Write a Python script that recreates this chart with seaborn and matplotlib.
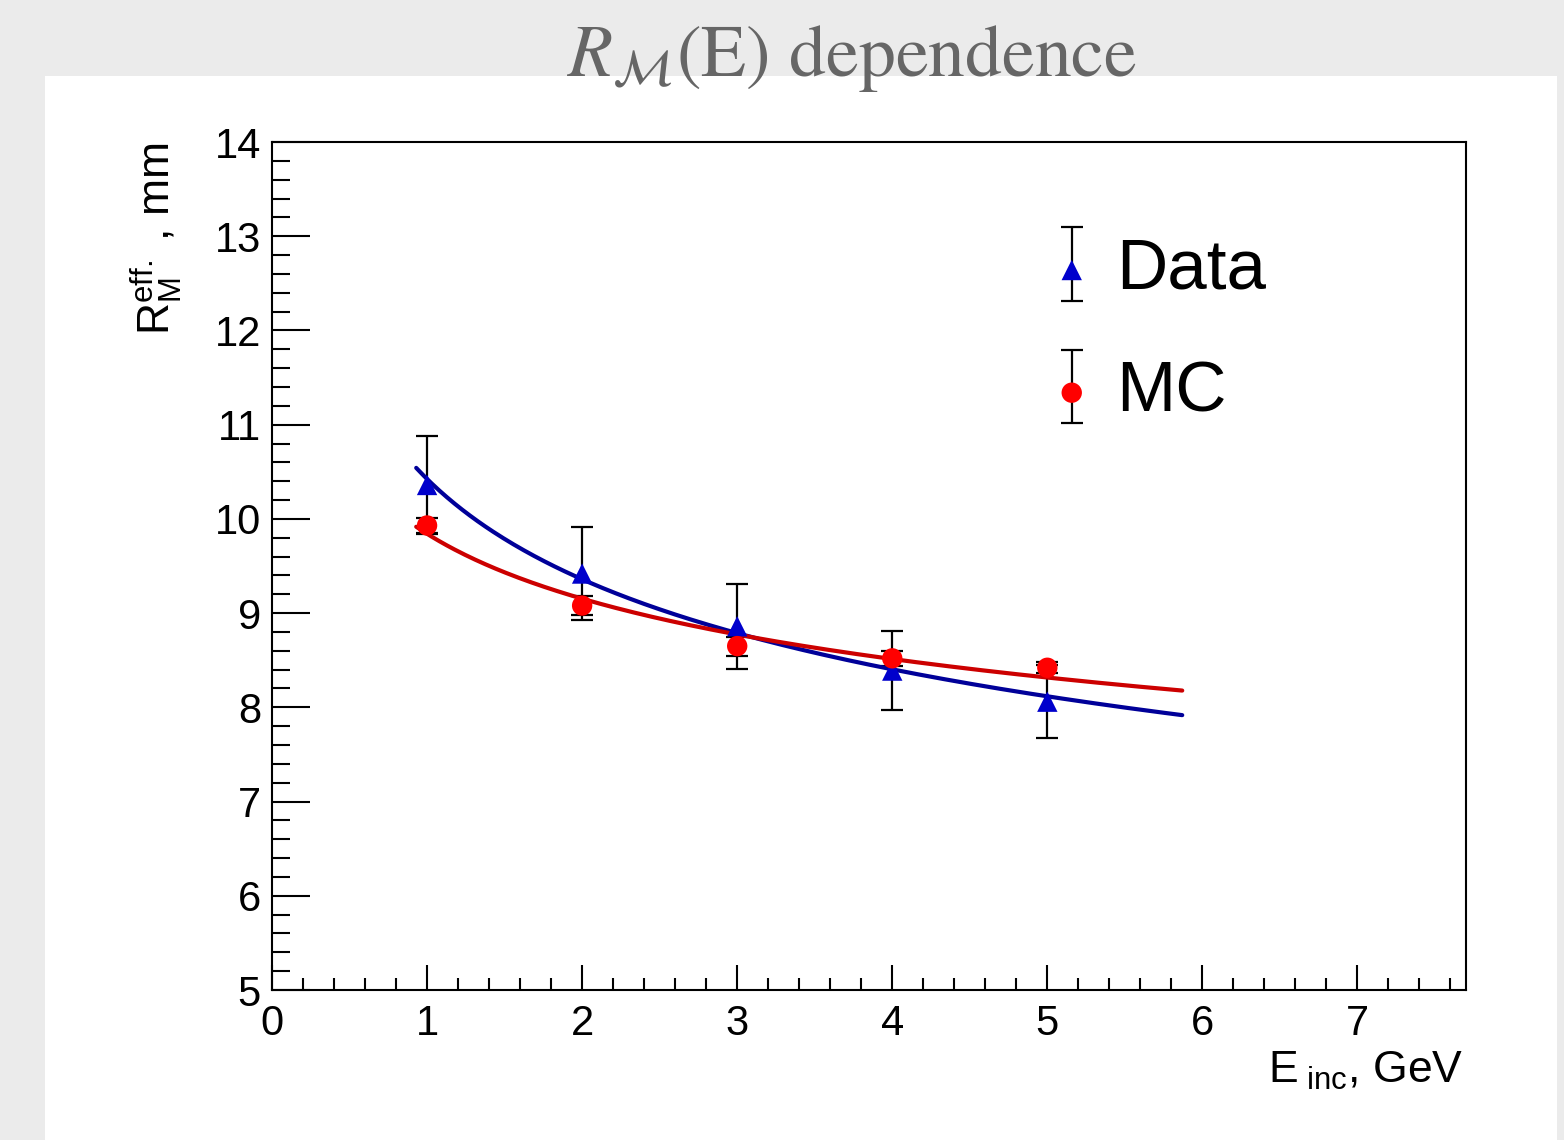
import numpy as np
import pandas as pd
import matplotlib
matplotlib.use('Agg')
import matplotlib.pyplot as plt
import seaborn as sns
from matplotlib.patches import Rectangle
from matplotlib.container import ErrorbarContainer
from matplotlib.legend_handler import HandlerErrorbar, HandlerTuple
from matplotlib.ticker import MultipleLocator

# ---------------- data ----------------
energy = [1, 2, 3, 4, 5]
data_rm = [10.36, 9.42, 8.86, 8.39, 8.06]
data_err = [0.52, 0.49, 0.45, 0.42, 0.39]
mc_rm = [9.93, 9.08, 8.65, 8.52, 8.42]
mc_err = [0.08, 0.10, 0.10, 0.08, 0.06]
fit_range = [0.93, 5.87]
series_names = ['Data', 'MC']
x_ticks = [0, 1, 2, 3, 4, 5, 6, 7]
y_ticks = [5, 6, 7, 8, 9, 10, 11, 12, 13, 14]

title_text = r'$R_{\mathcal{M}}$(E) dependence'
xlabel_text = r'E$_{\rm\ inc}$, GeV'
ylabel_text = r'R$^{\rm eff.}_{\rm M}$ , mm'

marker_colors = {'Data': '#0000cc', 'MC': '#ff0000'}
line_colors = {'Data': '#000099', 'MC': '#cc0000'}
markers = {'Data': '^', 'MC': 'o'}

# ---------------- frames ----------------
df = pd.DataFrame({
    'E': energy + energy,
    'R': data_rm + mc_rm,
    'err': data_err + mc_err,
    'series': [series_names[0]] * len(energy) + [series_names[1]] * len(energy),
})

# power-law fit R = A * E^p (least squares in log space)
fit_rows = []
E_fit = np.linspace(fit_range[0], fit_range[1], 300)
for name in series_names:
    sub = df[df.series == name]
    p, lnA = np.polyfit(np.log(sub.E), np.log(sub.R), 1)
    for e in E_fit:
        fit_rows.append({'E': e, 'R': np.exp(lnA) * e ** p, 'series': name})
fit_df = pd.DataFrame(fit_rows)

# ---------------- style ----------------
sns.set_theme(style='ticks')
plt.rcParams['font.family'] = ['Liberation Sans', 'DejaVu Sans']
plt.rcParams['mathtext.fontset'] = 'custom'
plt.rcParams['mathtext.rm'] = 'Liberation Sans'
plt.rcParams['mathtext.it'] = 'Liberation Sans:italic'
plt.rcParams['mathtext.bf'] = 'Liberation Sans:bold'
plt.rcParams['text.color'] = 'black'

W, H = 1564, 1140
fig = plt.figure(figsize=(W / 100, H / 100), dpi=100, facecolor='#ebebeb')
fig.add_artist(Rectangle((45 / W, 0), (1557 - 45) / W, (H - 76) / H,
                         transform=fig.transFigure, facecolor='white',
                         edgecolor='none', zorder=-5))

ax = fig.add_axes([272 / W, 1 - 990 / H, (1466 - 272) / W, (990 - 142) / H])
ax.set_facecolor('white')

# error bars
err_handles = {}
for name in series_names:
    sub = df[df.series == name]
    err_handles[name] = ax.errorbar(sub.E, sub.R, yerr=sub.err, fmt='none',
                                    ecolor='black', elinewidth=1.6,
                                    capsize=8, capthick=1.6, zorder=2)

# fit curves
sns.lineplot(data=fit_df, x='E', y='R', hue='series', palette=line_colors,
             linewidth=3, ax=ax, legend=False, zorder=3, sort=True,
             estimator=None)

# markers
scat_handles = {}
for name in series_names:
    sub = df[df.series == name]
    sns.scatterplot(data=sub, x='E', y='R', color=marker_colors[name],
                    marker=markers[name], s=215, edgecolor='none',
                    linewidth=0, ax=ax, legend=False, zorder=4)
    scat_handles[name] = ax.collections[-1]

ax.set_xlim(0, 7.7)
ax.set_ylim(5, 14)
ax.set_xticks(x_ticks)
ax.set_yticks(y_ticks)
ax.xaxis.set_minor_locator(MultipleLocator(0.2))
ax.yaxis.set_minor_locator(MultipleLocator(0.2))
ax.set_xlabel('')
ax.set_ylabel('')
for s in ax.spines.values():
    s.set_visible(True)
    s.set_linewidth(1.5)
    s.set_color('black')
ax.tick_params(axis='both', which='both', direction='in', colors='black',
               width=1.5, labelsize=30, top=False, right=False)
ax.tick_params(axis='y', which='major', length=27, pad=8)
ax.tick_params(axis='y', which='minor', length=13)
ax.tick_params(axis='x', which='major', length=18, pad=10)
ax.tick_params(axis='x', which='minor', length=9)

# legend
handles = [(err_handles[n], scat_handles[n]) for n in series_names]
leg = ax.legend(handles, series_names, loc='center left',
                bbox_to_anchor=(0.652, 0.776), frameon=False, fontsize=51,
                borderpad=0, borderaxespad=0, handlelength=0.6,
                handletextpad=0.33, labelspacing=0.8, labelcolor='black',
                handler_map={tuple: HandlerTuple(ndivide=1, pad=0),
                             ErrorbarContainer: HandlerErrorbar(yerr_size=0.52)})

# texts
fig.text(851.5 / W, 1 - 76 / H, title_text, ha='center', va='baseline',
         fontsize=53, color='#666666', family='STIXGeneral',
         math_fontfamily='stix')
fig.text(1463 / W, 1 - 1083 / H, xlabel_text, ha='right', va='baseline',
         fontsize=32, color='black')
fig.text(157 / W, 1 - 142 / H, ylabel_text, ha='center', va='top',
         rotation=90, fontsize=32, color='black')

fig.savefig('out.png', dpi=100, facecolor=fig.get_facecolor())
